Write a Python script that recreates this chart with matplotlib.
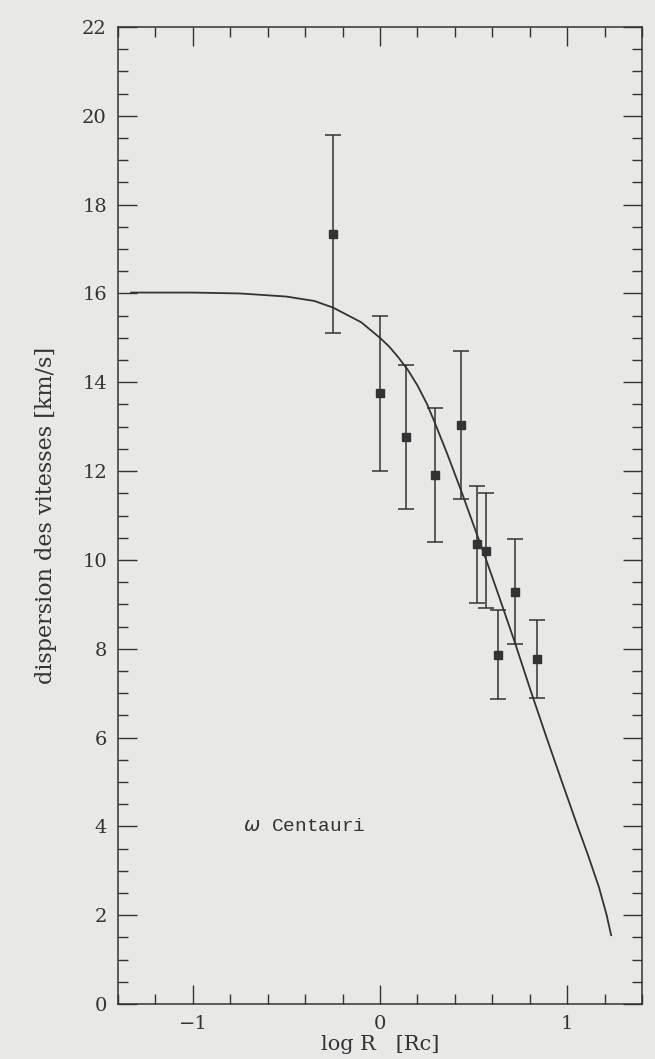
import matplotlib
matplotlib.use("Agg")
import matplotlib.pyplot as plt
from matplotlib.ticker import MultipleLocator

# measured velocity dispersion (log R in core radii)
log_r = [-0.253, -0.002, 0.137, 0.292, 0.431, 0.519, 0.569, 0.628, 0.722, 0.840]
sigma = [17.34, 13.75, 12.77, 11.92, 13.04, 10.35, 10.21, 7.87, 9.28, 7.77]
err_hi = [19.56, 15.50, 14.40, 13.43, 14.70, 11.66, 11.51, 8.88, 10.46, 8.65]
err_lo = [15.12, 12.00, 11.14, 10.40, 11.38, 9.03, 8.91, 6.87, 8.10, 6.89]

# model curve
model_x = [-1.33, -1.0, -0.75, -0.64, -0.5, -0.35, -0.25, -0.1, 0.0, 0.05,
           0.1, 0.15, 0.2, 0.25, 0.29, 0.36, 0.43, 0.52, 0.57, 0.63, 0.72,
           0.80, 0.89, 0.97, 1.05, 1.11, 1.17, 1.21, 1.235]
model_y = [16.02, 16.02, 16.0, 15.97, 15.93, 15.83, 15.68, 15.35, 15.0, 14.8,
           14.55, 14.27, 13.93, 13.52, 13.12, 12.38, 11.6, 10.55, 9.97, 9.25,
           8.15, 7.12, 6.0, 5.03, 4.07, 3.37, 2.63, 2.02, 1.55]

bg = "#e8e8e6"
ink = "#333333"

fig = plt.figure(figsize=(6.55, 10.59), dpi=100, facecolor=bg)
ax = fig.add_axes([118 / 655, 1 - 1004 / 1059, 524 / 655, 977 / 1059])
ax.set_facecolor(bg)

ax.plot(model_x, model_y, color=ink, lw=1.3, solid_joinstyle="round")

yerr = [[s - lo for s, lo in zip(sigma, err_lo)],
        [hi - s for s, hi in zip(sigma, err_hi)]]
ax.errorbar(log_r, sigma, yerr=yerr, fmt="s", color=ink, ms=5.5,
            elinewidth=1.1, capsize=6, capthick=1.1)

ax.text(-0.73, 4.0, r"$\omega$ Centauri", family="Liberation Mono",
        fontsize=14, color=ink, va="center", ha="left")

ax.set_xlim(-1.4, 1.4)
ax.set_ylim(0, 22)
ax.xaxis.set_major_locator(MultipleLocator(1))
ax.xaxis.set_minor_locator(MultipleLocator(0.2))
ax.yaxis.set_major_locator(MultipleLocator(2))
ax.yaxis.set_minor_locator(MultipleLocator(0.5))
ax.tick_params(which="both", direction="in", top=True, right=True,
               color=ink, width=1.0, labelcolor=ink, labelsize=14)
ax.tick_params(which="major", length=13.5, pad=8)
ax.tick_params(which="minor", length=7)
for lab in ax.get_xticklabels() + ax.get_yticklabels():
    lab.set_family("DejaVu Serif")
for sp in ax.spines.values():
    sp.set_color(ink)
    sp.set_linewidth(1.1)

ax.set_xlabel("log R   [Rc]", family="DejaVu Serif", fontsize=15,
              color=ink, labelpad=1)
ax.set_ylabel("dispersion des vitesses [km/s]", family="DejaVu Serif",
              fontsize=16, color=ink, labelpad=18)

fig.savefig("out.png", dpi=100, facecolor=bg)
